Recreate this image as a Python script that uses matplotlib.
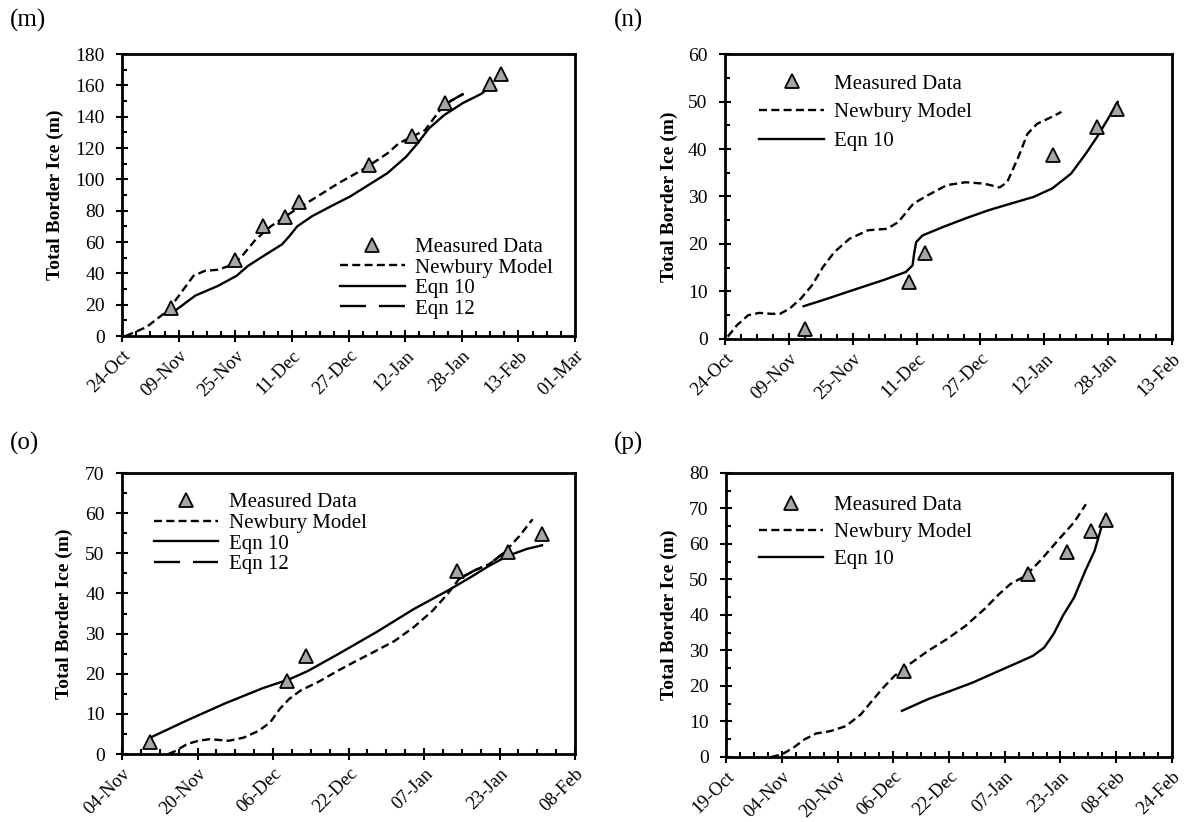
import matplotlib
matplotlib.use("Agg")
import matplotlib.pyplot as plt
from matplotlib.ticker import MultipleLocator

plt.rcParams['font.family'] = ['Liberation Serif', 'DejaVu Serif']
plt.rcParams['font.size'] = 14

# x values are days since the first tick of each panel

# (m)
m_ticklabels = ['24-Oct', '09-Nov', '25-Nov', '11-Dec', '27-Dec', '12-Jan', '28-Jan', '13-Feb', '01-Mar']
m_meas_x = [13.8, 32.0, 39.9, 46.0, 50.0, 69.9, 81.9, 91.2, 103.9, 107.1]
m_meas_y = [18, 48.5, 70, 76, 85.5, 109, 127.5, 148.5, 161, 167]
m_newb_x = [1, 6.9, 12.2, 15.4, 20.2, 23.4, 27.1, 30.3, 33.5, 37.8, 42, 48.4, 53.7, 61.2, 68.6,
            75, 78.2, 81.9, 85.6, 90.4, 93.1, 96.5]
m_newb_y = [0, 5.7, 15, 23.7, 38.5, 41.6, 42.3, 44.8, 50, 61.7, 70, 79.7, 87, 97.6, 107,
            116.6, 123, 127.2, 131.4, 146, 150.4, 154.6]
m_eq10_x = [13.8, 20.7, 27.1, 32.4, 35.6, 39.9, 45.2, 47.3, 49.5, 53.7, 59, 64.4, 69.7, 75,
            80.3, 83.5, 86.7, 91, 96.3, 101.6, 104.0]
m_eq10_y = [14.2, 25.8, 32, 38.5, 44.8, 51, 58.5, 63.8, 70, 76.5, 82.8, 89, 96.5, 104,
            114.5, 123, 132.5, 141, 148.7, 154.7, 159.5]
m_eq12_x = [90.4, 93.1, 96.5]
m_eq12_y = [146, 150.4, 154.6]

# (n)
n_ticklabels = ['24-Oct', '09-Nov', '25-Nov', '11-Dec', '27-Dec', '12-Jan', '28-Jan', '13-Feb']
n_meas_x = [20.1, 46, 50, 82.1, 93.2, 98.2]
n_meas_y = [2, 12, 18.2, 38.7, 44.6, 48.5]
n_newb_x = [0.7, 3, 5.8, 8.6, 11.5, 13.8, 16.2, 19, 21.8, 24.6, 27.4, 31.2, 35.9, 40.6, 43.4,
            47.2, 50.9, 55.6, 60.3, 65, 68.8, 70.7, 73.5, 75.8, 78.2, 81, 84.3]
n_newb_y = [0.5, 2.9, 5, 5.5, 5.3, 5.3, 6.4, 8.5, 11.3, 15.2, 18.3, 21.1, 22.9, 23.2, 24.6,
            28.5, 30.3, 32.4, 33, 32.7, 31.9, 33, 38.3, 43.2, 45.3, 46.4, 47.8]
n_eq10_x = [19.7, 24.6, 32.1, 39.7, 45.3, 47, 47.4, 47.9, 49.5, 54.7, 60.3, 66, 71.6, 77.3,
            82, 86.7, 90.4, 93.2, 96, 98.4]
n_eq10_y = [6.9, 8.2, 10.3, 12.4, 14.1, 15.5, 18, 20.4, 21.8, 23.6, 25.4, 27.1, 28.5, 29.9,
            31.7, 34.8, 39, 42.5, 46.4, 49.9]

# (o)
o_ticklabels = ['04-Nov', '20-Nov', '06-Dec', '22-Dec', '07-Jan', '23-Jan', '08-Feb']
o_meas_x = [5.84, 34.9, 39, 71, 81.8, 89]
o_meas_y = [2.9, 18.1, 24.3, 45.7, 50.3, 54.7]
o_newb_x = [9.8, 11.4, 13.8, 16.2, 18.6, 22.6, 25.8, 29, 31.4, 33.4, 35.4, 37.8, 41.8, 45.8,
            49.8, 53.8, 57.8, 61.8, 65.8, 69, 71.4, 74.6, 77.8, 81, 84.2, 87]
o_newb_y = [0, 0.8, 2.5, 3.3, 3.7, 3.3, 4.1, 5.8, 7.9, 11.2, 13.7, 15.8, 18.1, 20.8,
            23.3, 25.7, 28.2, 31.6, 35.7, 39.9, 43.6, 45.7, 47.3, 50.2, 54.3, 58.5]
o_eq10_x = [5.84, 13.8, 21.8, 29.8, 35.4, 39.4, 45.8, 53.8, 61.8, 69, 73.8, 77.8, 81.8, 85.8, 89]
o_eq10_y = [4, 8.4, 12.6, 16.4, 18.6, 20.7, 24.9, 30.3, 36.1, 40.7, 44, 46.9, 49.4, 51.1, 52]
o_eq12_x = [71.4, 74.6, 77.8, 81]
o_eq12_y = [43.6, 45.7, 47.3, 50.2]

# (p)
p_ticklabels = ['19-Oct', '04-Nov', '20-Nov', '06-Dec', '22-Dec', '07-Jan', '23-Jan', '08-Feb', '24-Feb']
p_meas_x = [51, 86.8, 98, 104.7, 109]
p_meas_y = [24.1, 51.5, 57.6, 63.7, 66.7]
p_newb_x = [12.9, 16.1, 19.3, 22.6, 25.8, 30, 34.4, 38.7, 41.9, 45.1, 48.3, 52.6, 58, 63.4,
            68.7, 74.1, 78.4, 81.6, 85.9, 90.2, 95.6, 99.9, 103.3]
p_newb_y = [0, 0.75, 2.6, 5, 6.6, 7.3, 8.7, 12, 15.8, 19.5, 22.8, 26.1, 29.9, 33.2,
            36.9, 41.6, 45.9, 48.7, 51, 55.3, 61.4, 66.1, 71.2]
p_eq10_x = [50.5, 58, 64.4, 70.9, 77.3, 83.8, 88.1, 91.3, 94, 96.7, 99.9, 103.1, 105.8, 108, 109]
p_eq10_y = [13, 16.3, 18.6, 21, 23.8, 26.6, 28.5, 30.8, 34.6, 39.8, 44.9, 52.4, 58.1, 65.6, 68]


def panel(rect, letter, letter_xy, ticklabels, ymax, ymajor, yminor,
          meas, newb, eq10, eq12, leg_xy, leg_spacing, ylab_x):
    ax = fig.add_axes(rect)
    ax.plot(newb[0], newb[1], color='black', lw=1.7, dashes=(3.4, 1.8), label='Newbury Model')
    ax.plot(eq10[0], eq10[1], color='black', lw=1.7, label='Eqn 10')
    if eq12 is not None:
        ax.plot(eq12[0], eq12[1], color='black', lw=1.7, dashes=(11, 5.5), label='Eqn 12')
    ax.plot(meas[0], meas[1], linestyle='none', marker='^', markersize=9.5,
            markerfacecolor='#a6a6a6', markeredgecolor='black', markeredgewidth=1.3,
            label='Measured Data')

    xmax = 16 * (len(ticklabels) - 1)
    ax.set_xlim(0, xmax)
    ax.set_ylim(0, ymax)
    ax.set_xticks(range(0, xmax + 1, 16))
    ax.set_xticklabels(ticklabels, rotation=45, ha='right', rotation_mode='anchor')
    ax.xaxis.set_minor_locator(MultipleLocator(4))
    ax.yaxis.set_major_locator(MultipleLocator(ymajor))
    ax.yaxis.set_minor_locator(MultipleLocator(yminor))
    ax.tick_params(which='major', direction='inout', length=9, width=1.5, labelsize=14)
    ax.tick_params(axis='x', which='major', pad=3.5, labelsize=13.5)
    ax.tick_params(axis='y', which='major', pad=8)
    ax.tick_params(which='minor', direction='in', length=3.5, width=1.5)
    for s in ax.spines.values():
        s.set_linewidth(2)
    ax.set_ylabel('Total Border Ice (m)', fontweight='bold', fontsize=14)
    ax.yaxis.set_label_coords(ylab_x, 0.5)

    h, l = ax.get_legend_handles_labels()
    order = [l.index('Measured Data'), l.index('Newbury Model'), l.index('Eqn 10')]
    if 'Eqn 12' in l:
        order.append(l.index('Eqn 12'))
    ax.legend([h[i] for i in order], [l[i] for i in order], loc='upper left',
              bbox_to_anchor=leg_xy, frameon=False, borderpad=0, borderaxespad=0,
              handlelength=3.1, handletextpad=0.5, labelspacing=leg_spacing, fontsize=15)
    fig.text(letter_xy[0], letter_xy[1], letter, fontsize=18, va='center', ha='left')
    return ax


fig = plt.figure(figsize=(11.85, 8.22), dpi=100)

panel([0.1030, 0.5912, 0.3823, 0.3431], '(m)', (0.008, 0.975), m_ticklabels, 180, 20, 10,
      (m_meas_x, m_meas_y), (m_newb_x, m_newb_y), (m_eq10_x, m_eq10_y), (m_eq12_x, m_eq12_y),
      (0.481, 0.35), 0.05, -0.128)
panel([0.6118, 0.5876, 0.3772, 0.3467], '(n)', (0.518, 0.975), n_ticklabels, 60, 10, 5,
      (n_meas_x, n_meas_y), (n_newb_x, n_newb_y), (n_eq10_x, n_eq10_y), None,
      (0.077, 0.93), 0.45, -0.106)
panel([0.1030, 0.0827, 0.3823, 0.3418], '(o)', (0.008, 0.461), o_ticklabels, 70, 10, 5,
      (o_meas_x, o_meas_y), (o_newb_x, o_newb_y), (o_eq10_x, o_eq10_y), (o_eq12_x, o_eq12_y),
      (0.07, 0.93), 0.05, -0.108)
panel([0.6127, 0.0791, 0.3763, 0.3455], '(p)', (0.518, 0.461), p_ticklabels, 80, 10, 5,
      (p_meas_x, p_meas_y), (p_newb_x, p_newb_y), (p_eq10_x, p_eq10_y), None,
      (0.073, 0.92), 0.35, -0.108)

fig.savefig('out.png', dpi=100)
